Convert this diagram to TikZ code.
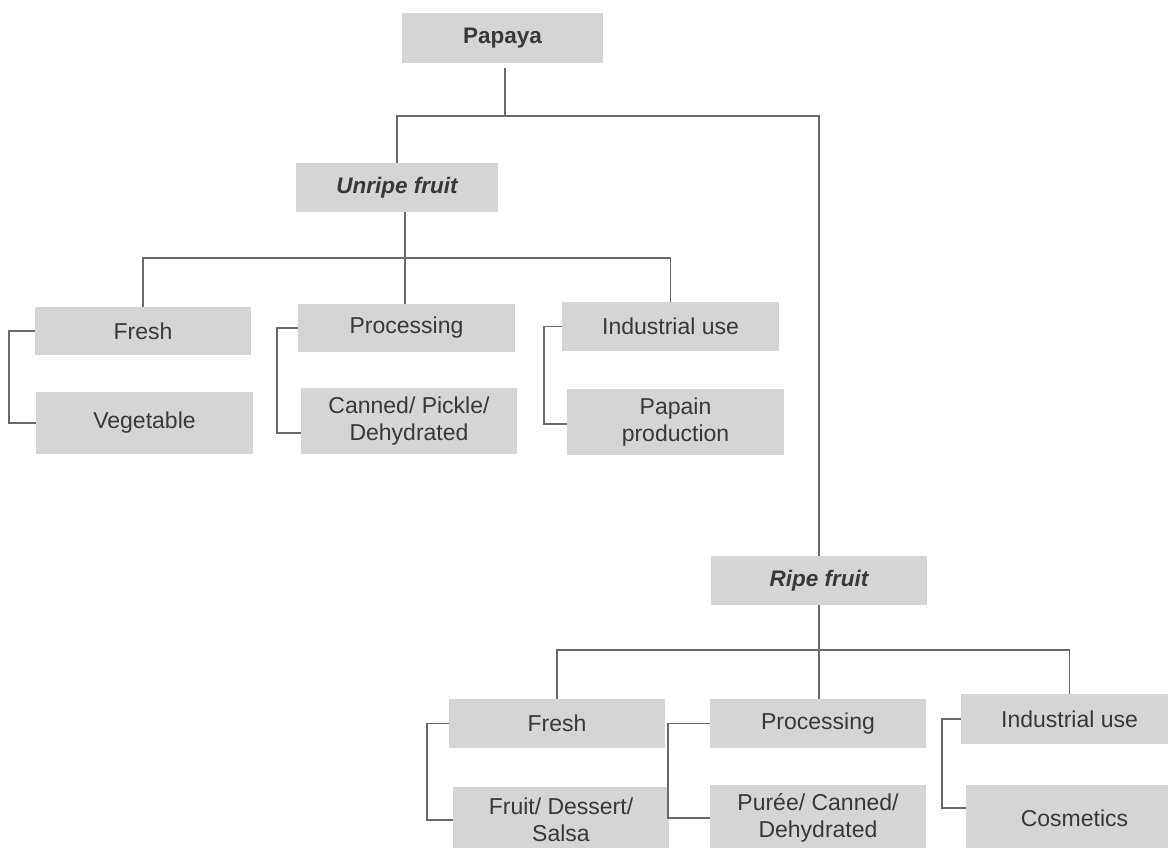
\documentclass[tikz,border=0pt]{standalone}
\usepackage{fontspec}
\setmainfont{Liberation Sans}
\definecolor{boxgray}{HTML}{D4D5D6}
\definecolor{linegray}{HTML}{6A6A6A}
\definecolor{txt}{HTML}{383838}
\begin{document}
\begin{tikzpicture}[x=1pt,y=-1pt,
  box/.style={fill=boxgray, inner sep=0pt, align=center, text=txt,
    font=\fontsize{23}{27}\selectfont},
  conn/.style={draw=linegray, line width=1.6pt}]
\useasboundingbox (0,0) rectangle (1168,848);
\fill[white] (0,0) rectangle (1168,848);
% nodes
\node[box, minimum width=201, minimum height=50, font=\fontsize{22.5}{27}\selectfont\bfseries] (pap) at (502.5,38) {Papaya};
\node[box, minimum width=202, minimum height=49, font=\fontsize{22.5}{27}\selectfont\bfseries\itshape] (unr) at (397,187.5) {Unripe fruit};
\node[box, minimum width=216, minimum height=48] (f1) at (143,331) {Fresh};
\node[box, minimum width=217, minimum height=62] (veg) at (144.5,423) {Vegetable};
\node[box, minimum width=217, minimum height=48] (p1) at (406.5,328) {Processing};
\node[box, minimum width=216, minimum height=66] (can) at (409,421) {Canned/ Pickle/\\Dehydrated};
\node[box, minimum width=217, minimum height=49] (i1) at (670.5,326.5) {Industrial use};
\node[box, minimum width=217, minimum height=66] (pp) at (675.5,422) {Papain\\production};
\node[box, minimum width=216, minimum height=49, font=\fontsize{22.5}{27}\selectfont\bfseries\itshape] (rip) at (819,580.5) {Ripe fruit};
\node[box, minimum width=216, minimum height=49] (f2) at (557,723.5) {Fresh};
\node[box, minimum width=216, minimum height=66] (fr) at (561,820) {Fruit/ Dessert/\\Salsa};
\node[box, minimum width=216, minimum height=49] (p2) at (818,723.5) {Processing};
\node[box, minimum width=216, minimum height=66] (pu) at (818,818) {Purée/ Canned/\\Dehydrated};
\node[box, minimum width=217, minimum height=50] (i2) at (1069.5,719) {Industrial use};
\node[box, minimum width=217, minimum height=66] (cos) at (1074.5,818) {Cosmetics};
% junction coordinates
\coordinate (pstart) at (505,68);
\coordinate (pj) at (505,116);
\coordinate (uj) at (405,258);
\coordinate (rj) at (819,650);
% Papaya branches
\draw[conn] (pstart) -- (pj) -| (unr.north);
\draw[conn] (pj) -| (rip.north);
% Unripe branches
\draw[conn] (unr.south -| uj) -- (uj);
\draw[conn] (f1.north) |- (uj);
\draw[conn] (i1.north) |- (uj);
\draw[conn] (uj) -- (uj |- p1.north);
% Ripe branches
\draw[conn] (rip.south) -- (rj);
\draw[conn] (f2.north) |- (rj);
\draw[conn] (i2.north) |- (rj);
\draw[conn] (rj) -- (rj |- p2.north);
% side brackets
\draw[conn] (f1.west) -- ++(-26,0) |- (veg.west);
\draw[conn] (p1.west) -- ++(-21,0) |- ([yshift=-12pt]can.west);
\draw[conn] (i1.west) -- ++(-18,0) |- ([yshift=-2pt]pp.west);
\draw[conn] (f2.west) -- ++(-22,0) |- (fr.west);
\draw[conn] (p2.west) -- ++(-42,0) |- (pu.west);
\draw[conn] (i2.west) -- ++(-19,0) |- ([yshift=10pt]cos.west);
\end{tikzpicture}
\end{document}
